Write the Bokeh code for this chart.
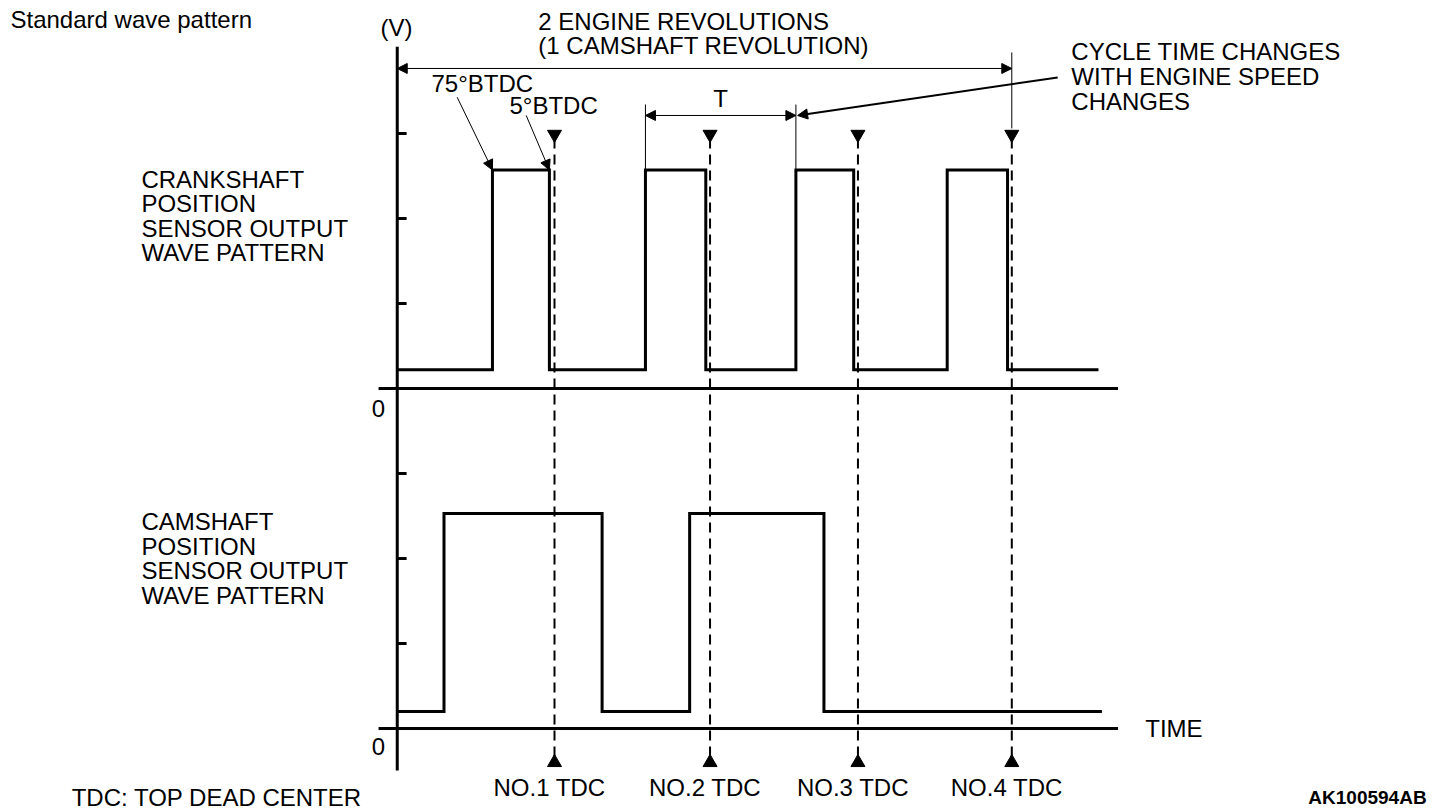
from bokeh.plotting import figure
from bokeh.models import Range1d, Arrow, NormalHead
from bokeh.embed import file_html
from bokeh.resources import INLINE
from bokeh.core.properties import value

# ---------------- data (time axis in crank degrees, level in volt-like units) ----------------
crank_rise = [107, 287, 464, 642]
crank_fall = [174, 358, 532, 713]
crank_span = [-5, 820]
crank_low, crank_high = 0.22, 2.57
cam_rise = [50, 339]
cam_fall = [236, 497]
cam_span = [-5, 824]
cam_low, cam_high = 0.20, 2.53
tdc_deg = [180, 363, 537, 718]
tdc_labels = ["NO.1 TDC", "NO.2 TDC", "NO.3 TDC", "NO.4 TDC"]
y_ticks = [1, 2, 3]
crank_zero = 4.0   # top panel baseline
cam_zero = 0.0     # bottom panel baseline
crank_label = ["CRANKSHAFT", "POSITION", "SENSOR OUTPUT", "WAVE PATTERN"]
cam_label = ["CAMSHAFT", "POSITION", "SENSOR OUTPUT", "WAVE PATTERN"]
note_lines = ["CYCLE TIME CHANGES", "WITH ENGINE SPEED", "CHANGES"]
rev_lines = ["2 ENGINE REVOLUTIONS", "(1 CAMSHAFT REVOLUTION)"]

FONT = value("Liberation Sans")
FS = value("24px")

p = figure(width=1456, height=812, x_range=Range1d(-471.76, 1241.18),
           y_range=Range1d(-0.988, 8.5647), output_backend="svg",
           toolbar_location=None, min_border=0, x_axis_type=None, y_axis_type=None)
p.grid.visible = False
p.outline_line_color = None
p.background_fill_color = "white"
p.border_fill_color = "white"


def square_wave(span, rises, falls, low, high, base):
    xs = [span[0]]
    ys = [base + low]
    for r, f in zip(rises, falls):
        xs += [r, r, f, f]
        ys += [base + low, base + high, base + high, base + low]
    xs.append(span[1])
    ys.append(base + low)
    return xs, ys


# axes
p.line([-5, -5], [-0.494, 8.02], line_width=3, color="black")
for base in (crank_zero, cam_zero):
    p.line([-27, 843], [base, base], line_width=3, color="black")
    for t in y_ticks:
        p.line([-5, 6], [base + t, base + t], line_width=3, color="black")

# TDC dashed lines and markers
for t in tdc_deg:
    p.line([t, t], [-0.33, 6.92], line_width=2, color="black", line_dash="10 6")
p.scatter(tdc_deg, [6.99] * 4, marker="inverted_triangle", size=14, color="black")
p.scatter(tdc_deg, [-0.40] * 4, marker="triangle", size=14, color="black")
p.text(tdc_deg, [-0.694] * 4, text=tdc_labels, text_font=FONT, text_font_size=FS,
       text_align="center", text_baseline="middle", x_offset=-5, color="black")

# signals
xs, ys = square_wave(crank_span, crank_rise, crank_fall, crank_low, crank_high, crank_zero)
p.line(xs, ys, line_width=3, color="black", line_join="miter")
xs, ys = square_wave(cam_span, cam_rise, cam_fall, cam_low, cam_high, cam_zero)
p.line(xs, ys, line_width=3, color="black", line_join="miter")

# dimension: 2 engine revolutions
p.line([tdc_deg[3], tdc_deg[3]], [7.06, 7.953], line_width=1, color="black")
p.add_layout(Arrow(start=NormalHead(size=10, fill_color="black", line_color="black"),
                   end=NormalHead(size=10, fill_color="black", line_color="black"),
                   x_start=-5, y_start=7.765, x_end=tdc_deg[3], y_end=7.765,
                   line_width=1, line_color="black"))
for i, s in enumerate(rev_lines):
    p.text([161], [8.318 - 0.283 * i], text=[s], text_font=FONT, text_font_size=FS,
           text_baseline="middle", text_align="left", color="black")

# dimension: T
top = crank_zero + crank_high
for x in (crank_rise[1], crank_rise[2]):
    p.line([x, x], [top, 7.341], line_width=1, color="black")
p.add_layout(Arrow(start=NormalHead(size=10, fill_color="black", line_color="black"),
                   end=NormalHead(size=10, fill_color="black", line_color="black"),
                   x_start=crank_rise[1], y_start=7.212, x_end=crank_rise[2], y_end=7.212,
                   line_width=1, line_color="black"))
p.text([(crank_rise[1] + crank_rise[2]) / 2], [7.406], text=["T"], text_font=FONT,
       text_font_size=FS, text_baseline="middle", text_align="center", color="black")

# cycle time note
p.add_layout(Arrow(end=NormalHead(size=10, fill_color="black", line_color="black"),
                   x_start=772, y_start=7.659, x_end=crank_rise[2] + 2, y_end=7.212,
                   line_width=2, line_color="black"))
for i, s in enumerate(note_lines):
    p.text([788], [7.97 - 0.294 * i], text=[s], text_font=FONT, text_font_size=FS,
           text_baseline="middle", text_align="left", color="black")

# BTDC notes
p.add_layout(Arrow(end=NormalHead(size=10, fill_color="black", line_color="black"),
                   x_start=65.5, y_start=7.427, x_end=crank_rise[0], y_end=top,
                   line_width=1, line_color="black"))
p.add_layout(Arrow(end=NormalHead(size=10, fill_color="black", line_color="black"),
                   x_start=146.7, y_start=7.212, x_end=crank_fall[0], y_end=top,
                   line_width=1, line_color="black"))
p.text([35.3], [7.594], text=["75°BTDC"], text_font=FONT, text_font_size=FS,
       text_baseline="middle", text_align="left", color="black")
p.text([127], [7.329], text=["5°BTDC"], text_font=FONT, text_font_size=FS,
       text_baseline="middle", text_align="left", color="black")

# axis labels
p.text([-5.9], [8.247], text=["(V)"], text_font=FONT, text_font_size=FS,
       text_baseline="middle", text_align="center", color="black")
p.text([-27, -27], [3.765, -0.212], text=["0", "0"], text_font=FONT, text_font_size=FS,
       text_baseline="middle", text_align="center", color="black")
p.text([875], [0], text=["TIME"], text_font=FONT, text_font_size=FS,
       text_baseline="middle", text_align="left", color="black")

# panel labels
for i, s in enumerate(crank_label):
    p.text([-306], [6.459 - 0.288 * i], text=[s], text_font=FONT, text_font_size=FS,
           text_baseline="middle", text_align="left", color="black")
for i, s in enumerate(cam_label):
    p.text([-306], [2.435 - 0.29 * i], text=[s], text_font=FONT, text_font_size=FS,
           text_baseline="middle", text_align="left", color="black")

# titles / footers
p.text([-460], [8.341], text=["Standard wave pattern"], text_font=FONT, text_font_size=FS,
       text_baseline="middle", text_align="left", color="black")
p.text([-388], [-0.812], text=["TDC: TOP DEAD CENTER"], text_font=FONT, text_font_size=FS,
       text_baseline="middle", text_align="left", color="black")
p.text([1206], [-0.812], text=["AK100594AB"], text_font=FONT, text_font_size=value("19px"),
       text_font_style="bold", text_baseline="middle", text_align="right", color="black")

open("out.html", "w").write(file_html(p, INLINE))
